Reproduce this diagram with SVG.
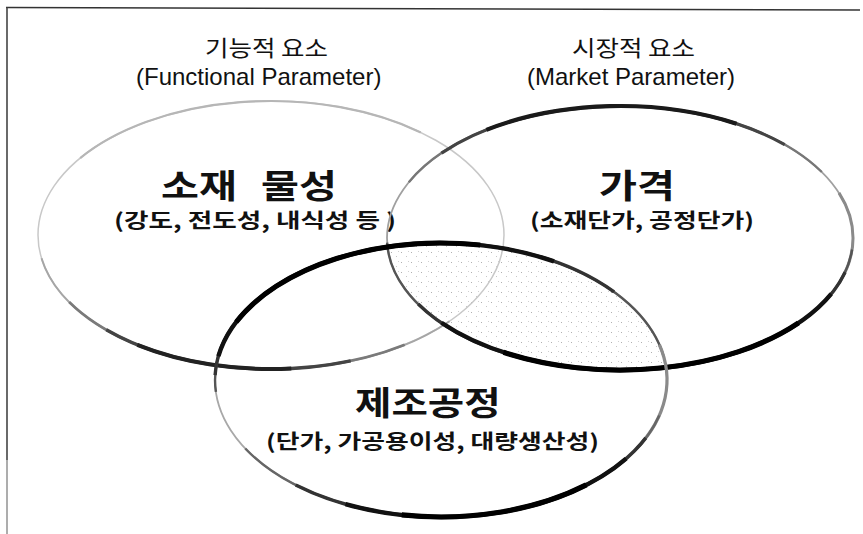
<svg xmlns="http://www.w3.org/2000/svg" width="863" height="534" viewBox="0 0 863 534">
  <style>
    .kr { font-family: "Noto Sans CJK KR", "Noto Sans", sans-serif; fill: #111; }
    .en { font-family: "Liberation Sans", Arial, sans-serif; fill: #111; }
    .title { font-size: 33px; font-weight: 700; }
    .sub { font-size: 20px; font-weight: 700; }
    .lab { font-size: 22px; font-weight: 400; }
    .base { fill: none; }
    .arc { fill: none; stroke-linecap: butt; }
  </style>
  <defs>
    <pattern id="speckle" width="10" height="10" patternUnits="userSpaceOnUse">
      <rect x="1" y="2" width="1" height="1" fill="#b0b0b0"/>
      <rect x="6" y="6" width="1" height="1" fill="#c6c6c6"/>
      <rect x="8" y="1" width="1" height="1" fill="#d0d0d0"/>
    </pattern>
    <clipPath id="clipR">
      <ellipse cx="620" cy="238" rx="233" ry="132"/>
    </clipPath>
  </defs>

  <!-- frame -->
  <g id="frame" fill="none">
    <path d="M6,7.5 L860,10" stroke="#333" stroke-width="1.6"/>
    <path d="M7,7.5 L7,460" stroke="#444" stroke-width="1.6"/>
    <path d="M7,460 L7,534" stroke="#999" stroke-width="1.6"/>
  </g>

  <!-- overlap shading (price ∩ process) -->
  <g id="overlap">
    <ellipse cx="441" cy="380" rx="226" ry="137" fill="url(#speckle)" clip-path="url(#clipR)"/>
  </g>

  <!-- node: material properties (left) -->
  <g id="node-material">
    <ellipse class="base" cx="271" cy="235" rx="233" ry="134" stroke="#c8c8c8" stroke-width="1.5"/>
    <path class="arc" d="M80.2,158.1 A233,134 0 0 1 420.8,132.4" stroke="#b6b6b6" stroke-width="2.2"/>
    <path class="arc" d="M41.5,258.3 A233,134 0 0 0 449.5,321.2" stroke="#a6a6a6" stroke-width="2"/>
    <path class="arc" d="M69.2,302 A233,134 0 0 0 404.7,344.8" stroke="#7a7a7a" stroke-width="2.6"/>
    <path class="arc" d="M106.3,329.7 A233,134 0 0 0 350.7,360.9" stroke="#444" stroke-width="3.3"/>
    <path class="arc" d="M137.3,344.8 A233,134 0 0 0 291.3,368.5" stroke="#222" stroke-width="4"/>
    <text class="kr title" transform="translate(161,198) scale(1.25,1)"><tspan x="0">소재</tspan><tspan x="80">물성</tspan></text>
    <text class="kr sub" x="114" y="228" textLength="282" lengthAdjust="spacingAndGlyphs">(강도, 전도성, 내식성 등 )</text>
  </g>

  <!-- node: price (right) -->
  <g id="node-price">
    <ellipse class="base" cx="620" cy="238" rx="233" ry="132" stroke="#a0a0a0" stroke-width="1.8"/>
    <path class="arc" d="M408.8,182.2 A233,132 0 0 1 821.8,172" stroke="#777" stroke-width="2.4"/>
    <path class="arc" d="M441.5,153.1 A233,132 0 0 1 784.7,144.7" stroke="#444" stroke-width="3.2"/>
    <path class="arc" d="M486.4,129.9 A233,132 0 0 1 736.5,123.7" stroke="#1a1a1a" stroke-width="4.2"/>
    <path class="arc" d="M839,192.9 A233,132 0 0 1 839,283.1" stroke="#8a8a8a" stroke-width="3"/>
    <path class="arc" d="M852.1,249.5 A233,132 0 0 1 387.1,242.6" stroke="#555" stroke-width="2.4"/>
    <path class="arc" d="M845.1,272.2 A233,132 0 0 1 418.2,304" stroke="#333" stroke-width="3.3"/>
    <path class="arc" d="M831.2,293.8 A233,132 0 0 1 441.5,322.8" stroke="#111" stroke-width="4.3"/>
    <path class="arc" d="M798.5,322.9 A233,132 0 0 1 503.5,352.3" stroke="#000" stroke-width="5.2"/>
    <text class="kr title" transform="translate(599,198) scale(1.25,1)">가격</text>
    <text class="kr sub" x="530" y="228" textLength="224" lengthAdjust="spacingAndGlyphs">(소재단가, 공정단가)</text>
  </g>

  <!-- node: manufacturing process (bottom) -->
  <g id="node-process">
    <ellipse class="base" cx="441" cy="380" rx="226" ry="137" stroke="#a8a8a8" stroke-width="1.8"/>
    <path class="arc" d="M215.9,391.9 A226,137 0 0 1 663.6,356.2" stroke="#555" stroke-width="2.4"/>
    <path class="arc" d="M215.1,375.2 A226,137 0 0 1 614.1,291.9" stroke="#333" stroke-width="3.4"/>
    <path class="arc" d="M218.4,356.2 A226,137 0 0 1 554,261.4" stroke="#111" stroke-width="4.4"/>
    <path class="arc" d="M236.2,322.1 A226,137 0 0 1 480.2,245.1" stroke="#000" stroke-width="5"/>
    <path class="arc" d="M659.3,344.5 A226,137 0 0 1 636.7,448.5" stroke="#8a8a8a" stroke-width="3.2"/>
    <path class="arc" d="M659.3,415.5 A226,137 0 0 1 245.3,448.5" stroke="#666" stroke-width="2.4"/>
    <path class="arc" d="M645.8,437.9 A226,137 0 0 1 295.7,484.9" stroke="#333" stroke-width="3.4"/>
    <path class="arc" d="M626.1,458.6 A226,137 0 0 1 345.5,504.2" stroke="#111" stroke-width="4.4"/>
    <path class="arc" d="M586.3,484.9 A226,137 0 0 1 401.8,514.9" stroke="#000" stroke-width="5.2"/>
    <text class="kr title" transform="translate(355,415) scale(1.2,1)">제조공정</text>
    <text class="kr sub" x="266" y="449" textLength="333" lengthAdjust="spacingAndGlyphs">(단가, 가공용이성, 대량생산성)</text>
  </g>

  <!-- category labels -->
  <g id="label-functional">
    <text class="kr lab" x="205" y="56" textLength="123" lengthAdjust="spacingAndGlyphs">기능적 요소</text>
    <text class="en" x="136" y="85" font-size="24">(Functional Parameter)</text>
  </g>
  <g id="label-market">
    <text class="kr lab" x="572" y="56" textLength="123" lengthAdjust="spacingAndGlyphs">시장적 요소</text>
    <text class="en" x="527" y="85" font-size="24">(Market Parameter)</text>
  </g>

  <g id="connectors"/>
</svg>
